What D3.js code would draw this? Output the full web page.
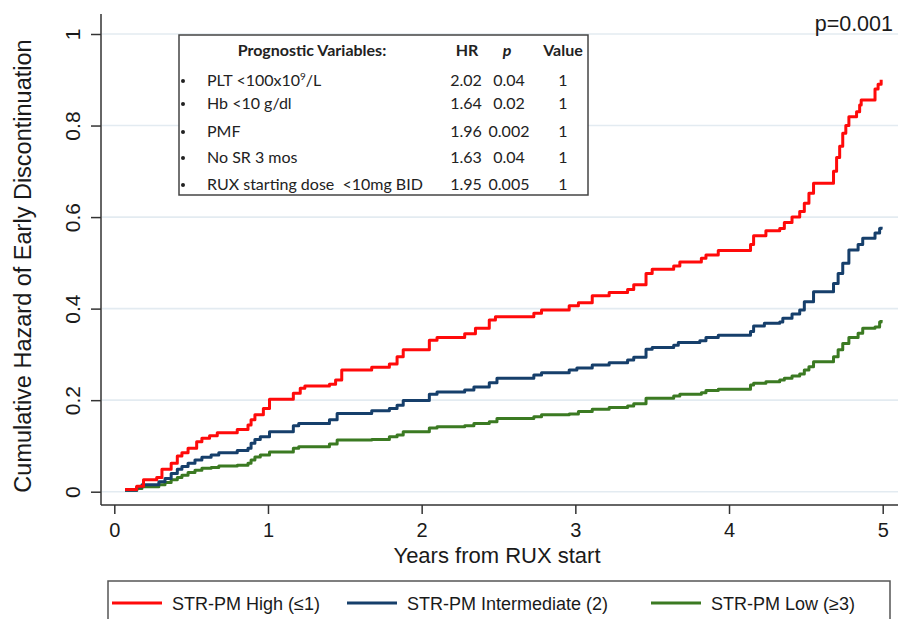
<!DOCTYPE html>
<html>
<head>
<meta charset="utf-8">
<script src="https://cdn.jsdelivr.net/npm/d3@7"></script>
<style>
  body { margin:0; background:#fff; }
  svg { display:block; }
  .ax text { font-family:"Liberation Sans", Arial, sans-serif; fill:#1a1a1a; }
  .tbl text { font-family:Lato, "Open Sans", sans-serif; fill:#222; }
</style>
</head>
<body>
<div id="chart"></div>
<script>
// step points: years from RUX start / cumulative hazard
var highT = [0.07,0.146,0.19,0.276,0.31,0.37,0.41,0.44,0.48,0.536,0.57,0.62,0.67,0.80,0.87,0.89,0.915,0.97,1.01,1.165,1.21,1.24,1.40,1.44,1.48,1.675,1.79,1.84,1.88,2.05,2.10,2.28,2.35,2.44,2.48,2.73,2.78,2.96,3.02,3.11,3.22,3.34,3.38,3.46,3.50,3.64,3.68,3.82,3.85,3.93,4.14,4.16,4.24,4.33,4.36,4.41,4.46,4.49,4.52,4.55,4.68,4.70,4.72,4.74,4.76,4.78,4.83,4.85,4.86,4.95,4.97,4.99];
var highH = [0.005,0.012,0.026,0.031,0.049,0.062,0.078,0.085,0.095,0.109,0.117,0.122,0.129,0.136,0.146,0.157,0.168,0.182,0.202,0.215,0.226,0.231,0.235,0.244,0.266,0.272,0.279,0.295,0.31,0.331,0.337,0.345,0.357,0.375,0.382,0.39,0.397,0.406,0.413,0.428,0.435,0.442,0.452,0.477,0.486,0.493,0.502,0.51,0.517,0.527,0.54,0.559,0.57,0.575,0.588,0.60,0.612,0.63,0.652,0.674,0.70,0.73,0.755,0.783,0.80,0.819,0.83,0.845,0.856,0.88,0.89,0.90];

var intT = [0.07,0.146,0.18,0.29,0.33,0.37,0.41,0.44,0.48,0.525,0.57,0.63,0.68,0.80,0.87,0.89,0.915,0.95,1.01,1.165,1.20,1.40,1.45,1.675,1.79,1.84,1.88,2.05,2.10,2.28,2.34,2.44,2.49,2.73,2.78,2.96,3.01,3.11,3.22,3.34,3.38,3.46,3.50,3.64,3.67,3.81,3.85,3.93,4.14,4.16,4.23,4.33,4.35,4.41,4.46,4.49,4.55,4.68,4.71,4.74,4.78,4.84,4.87,4.95,4.98,4.99];
var intH = [0.003,0.01,0.015,0.022,0.029,0.04,0.049,0.055,0.062,0.069,0.075,0.08,0.085,0.09,0.095,0.106,0.114,0.12,0.131,0.144,0.149,0.157,0.171,0.177,0.182,0.189,0.199,0.213,0.218,0.222,0.229,0.238,0.248,0.255,0.26,0.266,0.27,0.277,0.282,0.288,0.294,0.311,0.315,0.32,0.326,0.33,0.337,0.342,0.35,0.362,0.368,0.371,0.379,0.388,0.397,0.415,0.437,0.455,0.477,0.499,0.528,0.54,0.554,0.565,0.575,0.579];

var lowT = [0.07,0.146,0.18,0.29,0.33,0.37,0.41,0.44,0.48,0.525,0.57,0.63,0.68,0.80,0.87,0.89,0.915,0.95,1.01,1.165,1.20,1.40,1.45,1.675,1.79,1.84,1.88,2.05,2.10,2.28,2.34,2.44,2.49,2.73,2.78,2.96,3.02,3.11,3.22,3.34,3.38,3.46,3.64,3.68,3.82,3.85,3.93,4.14,4.16,4.24,4.33,4.36,4.41,4.46,4.49,4.52,4.55,4.68,4.71,4.74,4.78,4.84,4.87,4.95,4.98,4.99];
var lowH = [0.003,0.007,0.011,0.015,0.02,0.026,0.031,0.036,0.042,0.047,0.051,0.053,0.056,0.058,0.062,0.069,0.076,0.08,0.087,0.095,0.098,0.104,0.113,0.114,0.12,0.124,0.131,0.139,0.142,0.144,0.149,0.153,0.16,0.164,0.168,0.17,0.175,0.18,0.184,0.187,0.192,0.204,0.209,0.213,0.216,0.221,0.224,0.233,0.237,0.24,0.244,0.248,0.253,0.257,0.266,0.273,0.284,0.295,0.31,0.324,0.337,0.346,0.357,0.36,0.371,0.375];

var seriesNames = ['STR-PM High (\u22641)','STR-PM Intermediate (2)','STR-PM Low (\u22653)'];
var seriesColors = ['#ff0a0a','#163f6b','#3b7a22'];

var xTicks = [0,1,2,3,4,5];
var yTicks = [0,0.2,0.4,0.6,0.8,1];

var tblHead = ['Prognostic Variables:','HR','p','Value'];
var tblVars = ['PLT <100x10|9|/L','Hb <10 g/dl','PMF','No SR 3 mos','RUX starting dose  <10mg BID'];
var tblHR = ['2.02','1.64','1.96','1.63','1.95'];
var tblP = ['0.04','0.02','0.002','0.04','0.005'];
var tblVal = ['1','1','1','1','1'];

var W = 898, H = 619;
var svg = d3.select('#chart').append('svg').attr('width',W).attr('height',H);

var x = d3.scaleLinear().domain([0,5]).range([114.3,882.7]);
var y = d3.scaleLinear().domain([0,1]).range([491.7,34]);
var axisX = 101, axisY = 505;

var g = svg.append('g').attr('class','ax');

// grid
g.append('g').selectAll('line').data(yTicks).enter().append('line')
    .attr('x1',axisX+1).attr('x2',W)
    .attr('y1',d => y(d)).attr('y2',d => y(d))
    .attr('stroke','#e3ebf1').attr('stroke-width',1.6);

// y axis
var ya = g.append('g').attr('transform','translate(' + axisX + ',0)')
    .call(d3.axisLeft(y).tickValues(yTicks).tickSize(10).tickFormat(d => d === 0 || d === 1 ? d : d3.format('.1f')(d)));
ya.select('.domain').remove();
ya.selectAll('.tick line').attr('stroke','#333').attr('stroke-width',1.5);
ya.selectAll('.tick text')
    .attr('x',0).attr('dy',0)
    .attr('transform','translate(-21,0) rotate(-90)')
    .attr('text-anchor','middle')
    .style('font-size','21px');
g.append('line').attr('x1',axisX).attr('x2',axisX).attr('y1',14).attr('y2',axisY)
    .attr('stroke','#333').attr('stroke-width',1.5);

// x axis
var xa = g.append('g').attr('transform','translate(0,' + axisY + ')')
    .call(d3.axisBottom(x).tickValues(xTicks).tickSize(9).tickPadding(9).tickFormat(d3.format('d')));
xa.select('.domain').remove();
xa.selectAll('.tick line').attr('stroke','#333').attr('stroke-width',1.5);
xa.selectAll('.tick text').style('font-size','20px');
g.append('line').attr('x1',axisX).attr('x2',W).attr('y1',axisY).attr('y2',axisY)
    .attr('stroke','#333').attr('stroke-width',1.5);

// titles
g.append('text').attr('transform','translate(31,266) rotate(-90)')
    .attr('text-anchor','middle').style('font-size','23.5px')
    .text('Cumulative Hazard of Early Discontinuation');
g.append('text').attr('x',497).attr('y',563)
    .attr('text-anchor','middle').style('font-size','22px')
    .text('Years from RUX start');
g.append('text').attr('x',893).attr('y',31)
    .attr('text-anchor','end').style('font-size','21.5px')
    .text('p=0.001');

// curves
var line = d3.line().curve(d3.curveStepAfter)
    .x(d => x(d[0])).y(d => y(d[1]));
var curves = [d3.zip(highT,highH), d3.zip(intT,intH), d3.zip(lowT,lowH)];
// draw low first so red sits on top
[2,1,0].forEach(function(i) {
    svg.append('path').datum(curves[i])
        .attr('fill','none')
        .attr('stroke',seriesColors[i])
        .attr('stroke-width',3)
        .attr('stroke-linejoin','round')
        .attr('d',line);
});

// table inset
var tb = svg.append('g').attr('class','tbl');
tb.append('rect').attr('x',179).attr('y',35).attr('width',409).attr('height',160)
    .attr('fill','#fff').attr('stroke','#444').attr('stroke-width',1.5);
var headX = [312,467,507,563];
tb.selectAll('text.hd').data(tblHead).enter().append('text')
    .attr('class','hd')
    .attr('x',(d,i) => headX[i]).attr('y',56)
    .attr('text-anchor','middle')
    .style('font-size','16px').style('font-weight','bold')
    .style('font-style',(d,i) => i === 2 ? 'italic' : 'normal')
    .text(d => d);
var rowY = [86,109,137,163,190];
var rows = tb.selectAll('g.row').data(tblVars).enter().append('g').attr('class','row');
rows.append('circle').attr('cx',183).attr('cy',(d,i) => rowY[i]-5).attr('r',2).attr('fill','#222');
rows.append('text').attr('x',207).attr('y',(d,i) => rowY[i])
    .style('font-size','16px')
    .attr('xml:space','preserve')
    .each(function(d) {
        var parts = d.split('|');
        var t = d3.select(this);
        t.append('tspan').text(parts[0]);
        if (parts.length > 1) {
            t.append('tspan').attr('dy',-6).style('font-size','10px').text(parts[1]);
            t.append('tspan').attr('dy',6).text(parts[2]);
        }
    });
rows.append('text').attr('x',466).attr('y',(d,i) => rowY[i]).attr('text-anchor','middle')
    .style('font-size','16px').text((d,i) => tblHR[i]);
rows.append('text').attr('x',509).attr('y',(d,i) => rowY[i]).attr('text-anchor','middle')
    .style('font-size','16px').text((d,i) => tblP[i]);
rows.append('text').attr('x',563).attr('y',(d,i) => rowY[i]).attr('text-anchor','middle')
    .style('font-size','16px').text((d,i) => tblVal[i]);

// legend
var lg = svg.append('g').attr('class','ax');
lg.append('rect').attr('x',108).attr('y',581).attr('width',782).attr('height',60)
    .attr('fill','#fff').attr('stroke','#555').attr('stroke-width',1.5);
var legX = [112,347,651];
var items = lg.selectAll('g.li').data(seriesNames).enter().append('g').attr('class','li')
    .attr('transform',(d,i) => 'translate(' + legX[i] + ',603)');
items.append('line').attr('x1',0).attr('x2',50).attr('y1',0).attr('y2',0)
    .attr('stroke',(d,i) => seriesColors[i]).attr('stroke-width',3);
items.append('text').attr('x',60).attr('y',6.5).style('font-size','18px').text(d => d);
</script>
</body>
</html>
